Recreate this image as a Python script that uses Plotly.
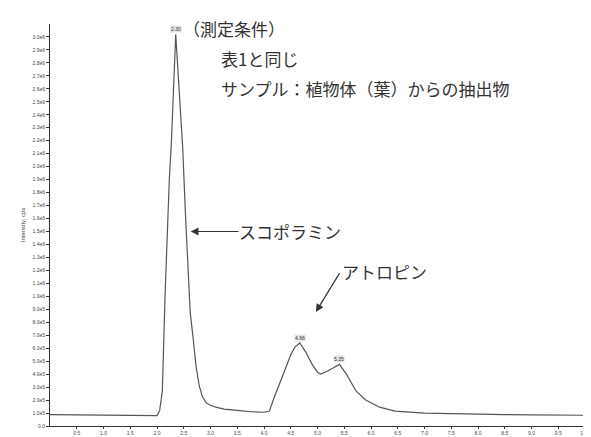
import plotly.graph_objects as go

# Retention time (min)
time_min = [0.0, 0.25, 0.5, 0.75, 1.0, 1.25, 1.5, 1.75, 1.9, 2.0, 2.05, 2.10, 2.15, 2.19, 2.23,
            2.27, 2.31, 2.35, 2.39, 2.44, 2.48, 2.53, 2.58, 2.62, 2.68, 2.73, 2.79, 2.85, 2.92,
            3.0, 3.1, 3.25, 3.5, 3.75, 4.0, 4.1, 4.19, 4.29, 4.38, 4.5, 4.58, 4.67, 4.78, 4.9,
            5.0, 5.06, 5.17, 5.3, 5.41, 5.54, 5.72, 5.9, 6.16, 6.45, 6.75, 7.0, 7.5, 8.0, 8.5,
            9.0, 9.5, 10.0]
# Intensity (cps)
intensity = [88000, 87000, 86000, 85000, 82000, 81000, 80000, 78000, 76000, 80000, 120000,
             270000, 1000000, 1500000, 1900000, 2200000, 2650000, 3020000, 2750000, 2400000,
             2150000, 1650000, 1150000, 880000, 660000, 460000, 310000, 225000, 178000,
             160000, 145000, 130000, 120000, 110000, 106000, 115000, 220000, 320000, 420000,
             550000, 610000, 640000, 570000, 475000, 415000, 400000, 420000, 450000, 475000,
             400000, 270000, 200000, 145000, 115000, 105000, 100000, 95000, 90000, 88000,
             86000, 84000, 83000]

peak_times = [2.35, 4.67, 5.41]
peak_heights = [3020000, 640000, 475000]
peak_labels = ["2.30", "4.66", "5.35"]

x_ticks = [0.5 * i for i in range(1, 21)]
x_ticktext = [f"{v:.1f}" for v in x_ticks]
y_ticks = [i * 100000 for i in range(0, 31)]
y_ticktext = ["0.0"] + [f"{i}.0e5" for i in range(1, 10)] + [f"{v/1e6:.1f}e6" for v in y_ticks[10:]]

fig = go.Figure()
fig.add_trace(go.Scatter(x=time_min, y=intensity, mode="lines",
                         line=dict(color="#555555", width=1.2), showlegend=False,
                         hoverinfo="skip"))

for t, h, lab in zip(peak_times, peak_heights, peak_labels):
    fig.add_annotation(x=t, y=h, text=lab, showarrow=False, yanchor="bottom", yshift=1,
                       font=dict(size=5, color="#333"), bgcolor="#e6e6e6",
                       borderpad=0)

cjk = "Noto Sans CJK JP"
tf = dict(family=cjk, size=17, color="#333")
fig.add_annotation(xref="paper", yref="paper", x=0.245, y=0.99, xanchor="left", yanchor="middle",
                   text="（測定条件）", showarrow=False, font=tf)
fig.add_annotation(xref="paper", yref="paper", x=0.315, y=0.915, xanchor="left", yanchor="middle",
                   text="表1と同じ", showarrow=False, font=tf)
fig.add_annotation(xref="paper", yref="paper", x=0.315, y=0.84, xanchor="left", yanchor="middle",
                   text="サンプル：植物体（葉）からの抽出物", showarrow=False, font=tf)

# Scopolamine arrow
fig.add_annotation(x=2.63, y=1500000, ax=3.55, ay=1500000, axref="x", ayref="y",
                   text="", showarrow=True, arrowhead=2, arrowsize=1.3, arrowwidth=1.2,
                   arrowcolor="#333")
fig.add_annotation(x=3.5, y=1500000, xanchor="left", yanchor="middle", text="スコポラミン",
                   showarrow=False, font=tf)
# Atropine arrow
fig.add_annotation(x=4.97, y=880000, ax=5.43, ay=1190000, axref="x", ayref="y",
                   text="", showarrow=True, arrowhead=2, arrowsize=1.3, arrowwidth=1.2,
                   arrowcolor="#333")
fig.add_annotation(x=5.42, y=1190000, xanchor="left", yanchor="middle", text="アトロピン",
                   showarrow=False, font=tf)

fig.update_layout(
    width=591, height=437,
    margin=dict(l=42, r=9, t=16, b=13),
    paper_bgcolor="white", plot_bgcolor="white",
    font=dict(family="Liberation Sans", size=5, color="#444"),
    xaxis=dict(range=[0, 10], tickvals=x_ticks, ticktext=x_ticktext, showgrid=False,
               zeroline=False, showline=True, linecolor="#333", linewidth=1,
               ticks="outside", ticklen=2, tickcolor="#333", tickfont=dict(size=5)),
    yaxis=dict(range=[0, 3100000], tickvals=y_ticks, ticktext=y_ticktext, showgrid=False,
               zeroline=False, showline=True, linecolor="#333", linewidth=1,
               ticks="outside", ticklen=3, tickcolor="#333", tickfont=dict(size=5),
               title=dict(text="Intensity, cps", font=dict(size=6), standoff=6)),
)

fig.write_html("out.html")
